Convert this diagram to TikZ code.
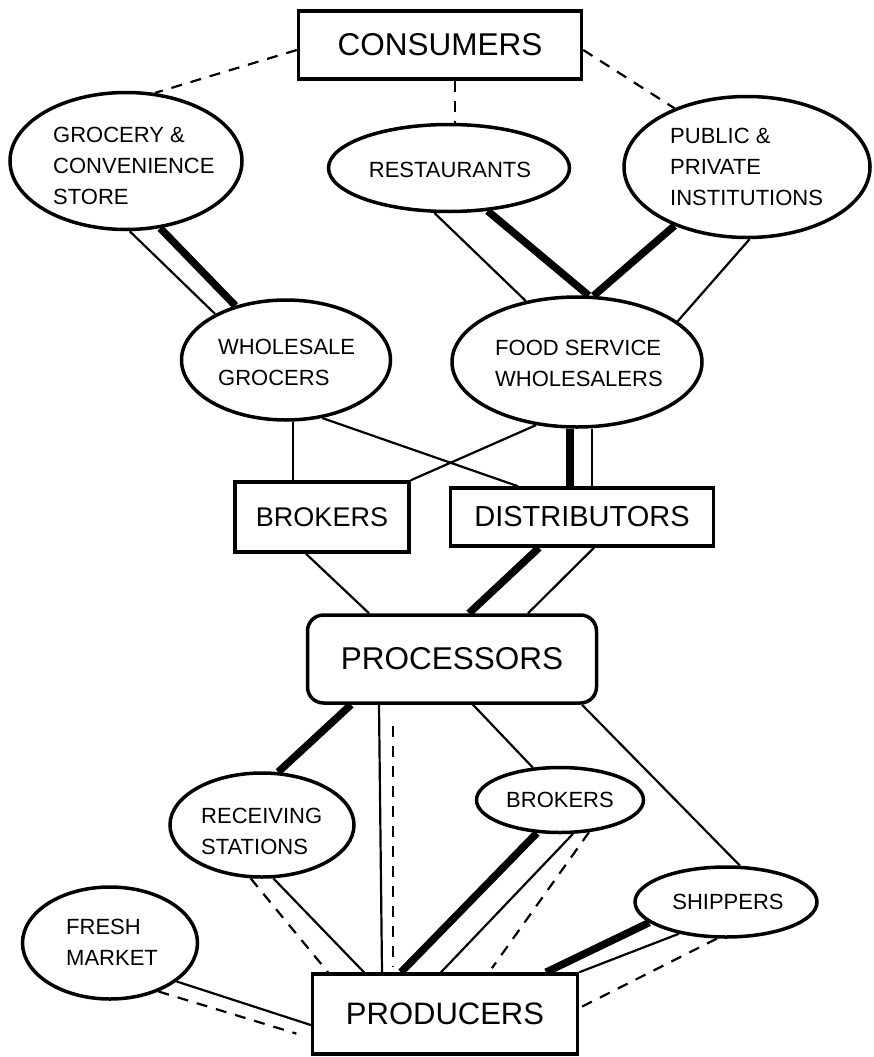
\documentclass[tikz,border=0pt]{standalone}
\usepackage{fontspec}
\setmainfont{Liberation Sans}
\usetikzlibrary{shapes.geometric,calc}
\begin{document}
\begin{tikzpicture}[x=1pt,y=-1pt,
  boxnode/.style={draw, line width=3.5pt, rectangle, inner sep=0pt},
  ovalnode/.style={draw, line width=3.5pt, ellipse, inner sep=0pt},
  bigtext/.style={font=\fontsize{31.5}{34}\selectfont},
  midtext/.style={font=\fontsize{28}{32}\selectfont},
  smalltext/.style={font=\fontsize{22}{31}\selectfont, inner sep=0pt, align=left},
  thinline/.style={line width=2.2pt},
  thickline/.style={line width=7.5pt},
  dashline/.style={line width=2.2pt, dash pattern=on 11pt off 9pt},
]
\fill[white] (0,0) rectangle (873,1057);
\useasboundingbox (0,0) rectangle (873,1057);

% boxes
\node[boxnode, minimum width=283pt, minimum height=68pt, bigtext] (cons) at (440,45) {CONSUMERS};
\node[boxnode, minimum width=174pt, minimum height=70pt, font=\fontsize{27}{32}\selectfont] (brk) at (322,517) {BROKERS};
\node[boxnode, minimum width=263pt, minimum height=58pt, font=\fontsize{29}{32}\selectfont] (dist) at (582,517) {DISTRIBUTORS};
\node[boxnode, rounded corners=16pt, minimum width=289pt, minimum height=88pt, bigtext] (proc) at (452,659) {PROCESSORS};
\node[boxnode, minimum width=265pt, minimum height=80pt, font=\fontsize{31}{34}\selectfont] (prod) at (445,1014) {PRODUCERS};

% ellipses
\node[ovalnode, minimum width=232pt, minimum height=137pt] (groc) at (126,161) {};
\node[ovalnode, minimum width=241pt, minimum height=87pt] (rest) at (449,168) {};
\node[ovalnode, minimum width=246pt, minimum height=141pt] (pub) at (747,167) {};
\node[ovalnode, minimum width=209pt, minimum height=120pt] (whg) at (286,360) {};
\node[ovalnode, minimum width=250pt, minimum height=130pt] (fsw) at (577,362) {};
\node[ovalnode, minimum width=184pt, minimum height=104pt] (recv) at (262,825) {};
\node[ovalnode, minimum width=167pt, minimum height=65pt] (brk2) at (560,800) {};
\node[ovalnode, minimum width=182pt, minimum height=70pt] (ship) at (726,902) {};
\node[ovalnode, minimum width=175pt, minimum height=112pt] (fresh) at (110,943) {};

% ellipse texts
\node[smalltext, anchor=west] (groct) at (53,166) {GROCERY \&\\CONVENIENCE\\STORE};
\node[smalltext] (restt) at (450,170) {RESTAURANTS};
\node[smalltext, anchor=west] (pubt) at (670,167) {PUBLIC \&\\PRIVATE\\INSTITUTIONS};
\node[smalltext, anchor=west] (whgt) at (218,362) {WHOLESALE\\GROCERS};
\node[smalltext, anchor=west] (fswt) at (495,363) {FOOD SERVICE\\WHOLESALERS};
\node[smalltext, anchor=west] (recvt) at (201,831) {RECEIVING\\STATIONS};
\node[smalltext] (brk2t) at (560,800) {BROKERS};
\node[smalltext] (shipt) at (728,902) {SHIPPERS};
\node[smalltext, anchor=west] (fresht) at (66,942) {FRESH\\MARKET};

% top level
\draw[dashline] ([yshift=-5pt]cons.west) -- (groc.67);
\draw[dashline] ([xshift=15pt]cons.south) -- ([xshift=15pt]cons.south |- rest.north);
\draw[dashline] ([yshift=-5pt]cons.east) -- (pub.141);

\draw[thinline] (groc.-87) -- (whg.147);
\draw[thickline] (groc.-63) -- (whg.133);
\draw[thinline] (rest.-108) -- (fsw.130);
\draw[thickline] (rest.-48) -- (fsw.80);
\draw[thickline] (pub.-141) -- (fsw.76);
\draw[thinline] (pub.-88) -- (fsw.22);

% middle
\draw[thinline] ([xshift=7pt]whg.south) -- ([xshift=7pt]whg.south |- brk.north);
\draw[thinline] (whg.-58) -- ([xshift=-64pt]dist.north);
\draw[thinline] (fsw.-123) -- (brk.north east);
\draw[thickline] ([xshift=-7pt]fsw.south) -- ([xshift=-7pt]fsw.south |- dist.north);
\draw[thinline] ([xshift=15pt]fsw.south) -- ([xshift=15pt]fsw.south |- dist.north);

\draw[thinline] ([xshift=-16pt]brk.south) -- ([xshift=-83pt]proc.north);
\draw[thickline] ([xshift=-43pt]dist.south) -- ([xshift=17pt]proc.north);
\draw[thinline] ([xshift=12pt]dist.south) -- ([xshift=76pt]proc.north);

% bottom
\draw[thickline] ([xshift=-101pt]proc.south) -- (recv.73);
\draw[thinline] ([xshift=-73pt]proc.south) -- ([xshift=-63pt]prod.north);
\draw[dashline, shorten <=21pt, shorten >=6pt] ([xshift=-59pt]proc.south) -- ([xshift=-52pt]prod.north);
\draw[thinline] ([xshift=21pt]proc.south) -- (brk2.130);
\draw[thinline] ([xshift=130pt]proc.south) -- (ship.69);

\draw[dashline] (recv.-102) -- ([xshift=-117pt]prod.north);
\draw[thinline] (recv.-78) -- ([xshift=-81pt]prod.north);
\draw[thickline] (brk2.-125) -- ([xshift=-44pt]prod.north);
\draw[thinline] (brk2.-69) -- ([xshift=-4pt]prod.north);
\draw[dashline, shorten >=5pt] (brk2.-48) -- ([xshift=44pt]prod.north);
\draw[thickline] (ship.-165) -- ([xshift=101pt]prod.north);
\draw[thinline] (ship.-146) -- (prod.north east);
\draw[dashline] (ship.-104) -- ([yshift=6pt]prod.east);
\draw[thinline] (fresh.-30) -- ([yshift=-11pt]prod.west);
\draw[dashline, shorten >=15pt] (fresh.-45) -- ([yshift=-24pt]prod.west);
\end{tikzpicture}
\end{document}
